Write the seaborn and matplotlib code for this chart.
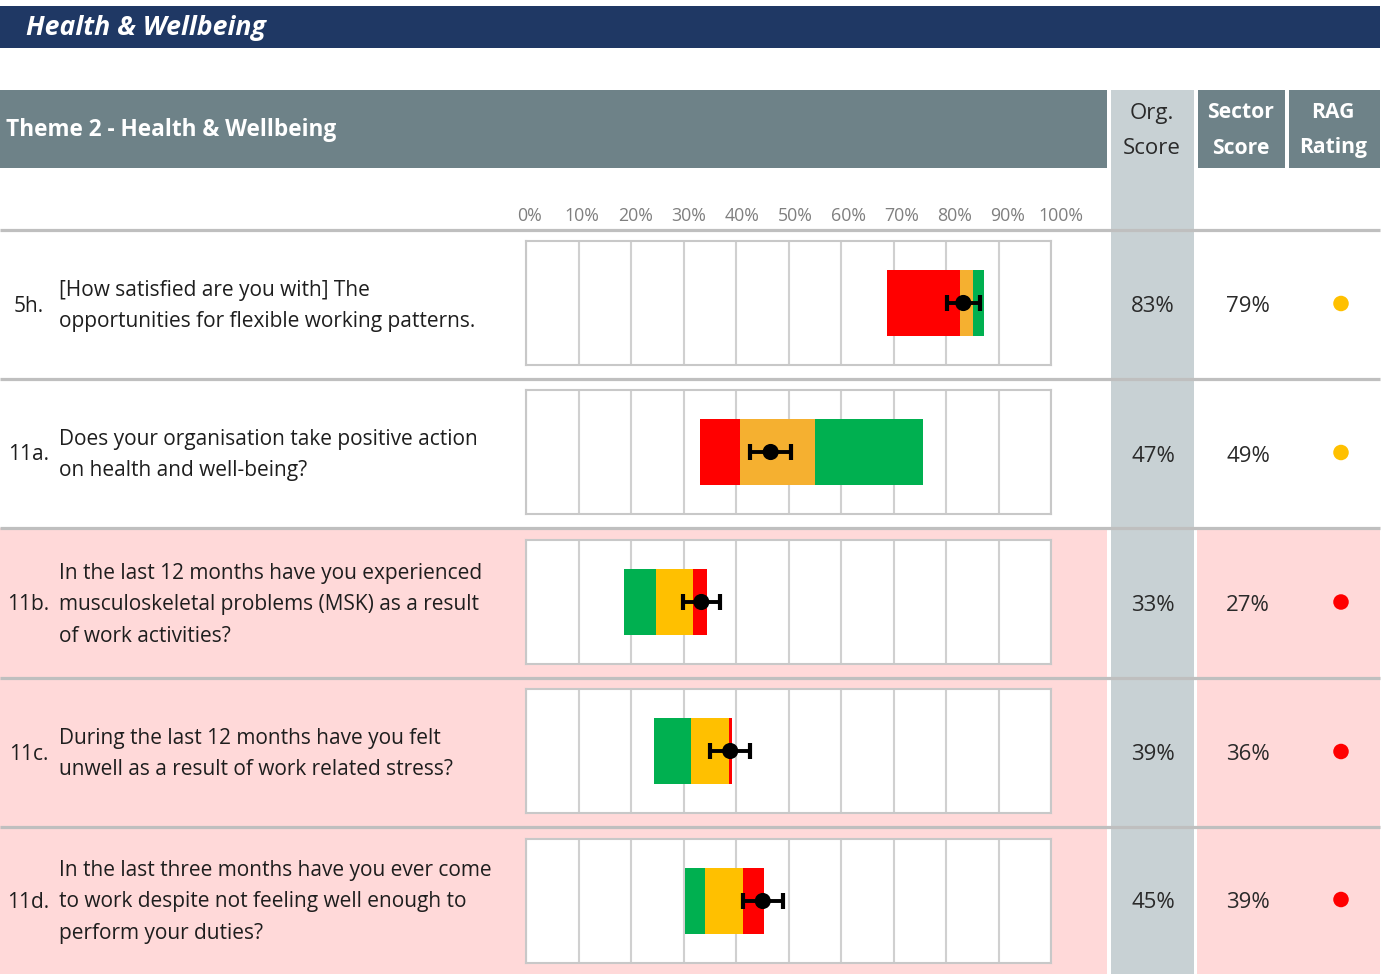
import matplotlib
matplotlib.use("Agg")
import matplotlib.pyplot as plt
from matplotlib.patches import Rectangle
import seaborn as sns
import pandas as pd

# ---------------- data ----------------
q_ids = ["5h.", "11a.", "11b.", "11c.", "11d."]
q_text = [
    ["[How satisfied are you with] The", "opportunities for flexible working patterns."],
    ["Does your organisation take positive action", "on health and well-being?"],
    ["In the last 12 months have you experienced", "musculoskeletal problems (MSK) as a result", "of work activities?"],
    ["During the last 12 months have you felt", "unwell as a result of work related stress?"],
    ["In the last three months have you ever come", "to work despite not feeling well enough to", "perform your duties?"],
]
polarity = ["positive", "positive", "negative", "negative", "negative"]
bar_start = [68.7, 33.2, 18.6, 24.3, 30.2]
band_1 = [13.9, 7.6, 6.1, 7.2, 3.8]
band_2 = [2.5, 14.3, 7.1, 7.1, 7.3]
band_3 = [2.2, 20.5, 2.6, 0.6, 4.0]
org_point = [83.3, 46.6, 33.4, 38.9, 45.1]
org_err = [3.1, 3.9, 3.5, 3.8, 3.85]
org_score = ["83%", "47%", "33%", "39%", "45%"]
sector_score = ["79%", "49%", "27%", "36%", "39%"]
rag = ["amber", "amber", "red", "red", "red"]
axis_ticks = [0, 10, 20, 30, 40, 50, 60, 70, 80, 90, 100]
axis_labels = ["0%", "10%", "20%", "30%", "40%", "50%", "60%", "70%", "80%", "90%", "100%"]

# ---------------- style ----------------
sns.set_theme(style="white")
plt.rcParams['font.family'] = ['Open Sans', 'DejaVu Sans']

NAVY = "#1F3864"
SLATE = "#6E8288"
ORGCOL = "#C8D1D4"
PINK = "#FFD9D9"
SEP = "#BFBFBF"
TXT = "#1E1E1E"
RED = "#FF0000"
ORANGE = "#F5B030"
YELLOW = "#FFC000"
GREEN = "#00B050"
rag_colors = {"amber": "#FFC000", "red": "#FF0000"}

W, H = 1387, 974
fig = plt.figure(figsize=(W / 100, H / 100), dpi=100)
bg = fig.add_axes([0, 0, 1, 1])
bg.set_xlim(0, W)
bg.set_ylim(H, 0)
bg.axis("off")

def rect(x0, y0, x1, y1, color, z=1):
    bg.add_patch(Rectangle((x0, y0), x1 - x0, y1 - y0, facecolor=color, edgecolor="none", zorder=z))

# banner
rect(0, 6, 1380, 48, NAVY)
bg.text(26, 28, "Health & Wellbeing", color="white", fontsize=19.2, fontweight="bold",
        fontstyle="italic", va="center", ha="left", zorder=5)

# header
rect(0, 90, 1107, 168, SLATE)
rect(1198, 90, 1285, 168, SLATE)
rect(1289, 90, 1380, 168, SLATE)
bg.text(6, 130, "Theme 2 - Health & Wellbeing", color="white", fontsize=16.3, fontweight="bold",
        va="center", ha="left", zorder=5)
HDR = 15.2
bg.text(1241, 113, "Sector", color="white", fontsize=HDR, fontweight="bold", va="center", ha="center", zorder=5)
bg.text(1241, 148, "Score", color="white", fontsize=HDR, fontweight="bold", va="center", ha="center", zorder=5)
bg.text(1333, 113, "RAG", color="white", fontsize=HDR, fontweight="bold", va="center", ha="center", zorder=5)
bg.text(1333, 148, "Rating", color="white", fontsize=HDR, fontweight="bold", va="center", ha="center", zorder=5)

# rows geometry
row_tops = [230, 379, 528, 678, 827]
row_bots = [379, 528, 678, 827, 974]

for i in range(5):
    if polarity[i] == "negative":
        rect(0, row_tops[i], 1107, row_bots[i], PINK, z=1)
        rect(1197, row_tops[i], 1380, row_bots[i], PINK, z=1)

# org column
rect(1111, 90, 1194, 974, ORGCOL, z=2)
bg.text(1152, 113, "Org.", color="#2A2A2A", fontsize=HDR + 0.8, va="center", ha="center", zorder=5)
bg.text(1152, 148, "Score", color="#2A2A2A", fontsize=HDR + 0.8, va="center", ha="center", zorder=5)

# separators
for y in row_tops:
    bg.plot([0, 1380], [y, y], color=SEP, lw=2.3, zorder=3, solid_capstyle="butt")

# texts per row
BODY = 15
LINE = 31.5
for i in range(5):
    yc = (row_tops[i] + row_bots[i]) / 2 + 1.5
    bg.text(28.5, yc, q_ids[i], color=TXT, fontsize=BODY, va="center", ha="center", zorder=5)
    n = len(q_text[i])
    for k, line in enumerate(q_text[i]):
        bg.text(59, yc + (k - (n - 1) / 2) * LINE, line, color=TXT, fontsize=BODY,
                va="center", ha="left", zorder=5)
    bg.text(1153, yc + 1, org_score[i], color="#2A2A2A", fontsize=16, va="center", ha="center", zorder=5)
    bg.text(1248, yc + 1, sector_score[i], color="#2A2A2A", fontsize=16, va="center", ha="center", zorder=5)

rag_df = pd.DataFrame({"x": [1341] * 5,
                       "y": [(row_tops[i] + row_bots[i]) / 2 - 1 for i in range(5)],
                       "rag": rag})
sns.scatterplot(data=rag_df, x="x", y="y", hue="rag", palette=rag_colors, s=125,
                edgecolor="none", legend=False, ax=bg, zorder=6)
bg.set_xlim(0, W)
bg.set_ylim(H, 0)
bg.axis("off")

# scale labels
sc = fig.add_axes([529 / W, 1 - 216 / H, (1061 - 529) / W, 0.0001])
sc.set_xlim(0, 100)
for t, lab in zip(axis_ticks, axis_labels):
    sc.text(t, 0, lab, transform=sc.get_xaxis_transform(), ha="center", va="center",
            color="#7F7F7F", fontsize=12.8)
sc.set_xticks([])
sc.set_yticks([])
for s in sc.spines.values():
    s.set_visible(False)
sc.patch.set_alpha(0)

# bar charts
box_tops = [241, 390, 540, 689, 839]
BOX_H = 124
for i in range(5):
    ax = fig.add_axes([526 / W, 1 - (box_tops[i] + BOX_H) / H, 525 / W, BOX_H / H])
    ax.set_facecolor("white")
    ax.set_xlim(0, 100)
    ax.set_ylim(-1, 1)
    ax.set_xticks(axis_ticks)
    ax.set_yticks([])
    ax.tick_params(axis="x", length=0, labelbottom=False)
    ax.grid(axis="x", color="#D0D0D0", lw=1.5)
    ax.grid(axis="y", visible=False)
    ax.set_axisbelow(True)
    for s in ax.spines.values():
        s.set_visible(True)
        s.set_color("#C8C8C8")
        s.set_linewidth(1.5)
    if polarity[i] == "positive":
        cols = [RED, ORANGE, GREEN]
    else:
        cols = [GREEN, YELLOW, RED]
    left = bar_start[i]
    for w, c in zip([band_1[i], band_2[i], band_3[i]], cols):
        ax.barh(0, w, left=left, height=1.05, color=c, edgecolor="none", zorder=2)
        left += w
    ax.errorbar(org_point[i], 0, xerr=org_err[i], fmt="none", ecolor="black",
                elinewidth=2.8, capsize=5.5, capthick=3.0, zorder=3)
    sns.scatterplot(x=[org_point[i]], y=[0], color="black", s=135, edgecolor="none",
                    ax=ax, zorder=4, legend=False)
    ax.set_xlim(0, 100)
    ax.set_ylim(-1, 1)
    ax.set_xlabel("")
    ax.set_ylabel("")

fig.savefig("out.png", dpi=100)
